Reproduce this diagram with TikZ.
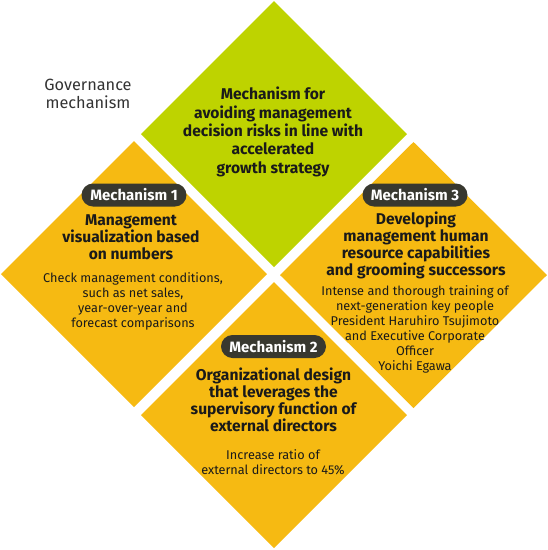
\documentclass[tikz,border=0pt]{standalone}
\usepackage{fontspec}
\setmainfont{Fira Sans}
\definecolor{lime}{HTML}{BED300}
\definecolor{amber}{HTML}{F6BA12}
\definecolor{pilldark}{HTML}{38382F}
\definecolor{textgray}{HTML}{333333}
\definecolor{textdark}{HTML}{1A1A1A}
\tikzset{
  gov/.style={font=\fontsize{16.3}{18.5}\selectfont, text=textgray, align=center},
  head/.style={font=\bfseries\fontsize{15.6}{17}\selectfont, text=textdark, align=center},
  body/.style={font=\fontsize{12.7}{15}\selectfont, text=textdark, align=center},
  pill/.style={fill=pilldark, text=white, rounded corners=11.5pt, minimum width=105pt,
    minimum height=23pt, inner sep=0pt, font=\bfseries\fontsize{15}{15}\selectfont},
}
\begin{document}
\begin{tikzpicture}[x=1pt,y=-1pt]
\useasboundingbox (0,0) rectangle (548,550);
% diamonds
\fill[lime]  (274,1) -- (407,134) -- (274,267) -- (141,134) -- cycle;
\fill[amber] (134,141) -- (267,274) -- (134,407) -- (1,274) -- cycle;
\fill[amber] (413.5,142) -- (547,275) -- (413.5,408) -- (280,275) -- cycle;
\fill[amber] (274,282) -- (407,415) -- (274,548) -- (141,415) -- cycle;
% texts
\node[gov] (gov) at (88,94) {Governance\\mechanism};
\node[head, font=\bfseries\fontsize{15.6}{18.3}\selectfont] (top) at (273,132)
  {Mechanism for\\avoiding management\\decision risks in line with\\accelerated\\growth strategy};
\node[pill] (m1) at (134,195) {Mechanism 1};
\node[head] (h1) at (131,237) {Management\\visualization based\\on numbers};
\node[body] (b1) at (133,301.5) {Check management conditions,\\such as net sales,\\year-over-year and\\forecast comparisons};
\node[pill] (m3) at (415,195) {Mechanism 3};
\node[head] (h3) at (416,245.5) {Developing\\management human\\resource capabilities\\and grooming successors};
\node[body] (b3) at (415,329.5) {Intense and thorough training of\\next-generation key people\\President Haruhiro Tsujimoto\\and Executive Corporate\\Officer\\Yoichi Egawa};
\node[pill] (m2) at (273.5,346.5) {Mechanism 2};
\node[head] (h2) at (273.5,399.5) {Organizational design\\that leverages the\\supervisory function of\\external directors};
\node[body] (b2) at (273,462.5) {Increase ratio of\\external directors to 45\%};
\end{tikzpicture}
\end{document}
